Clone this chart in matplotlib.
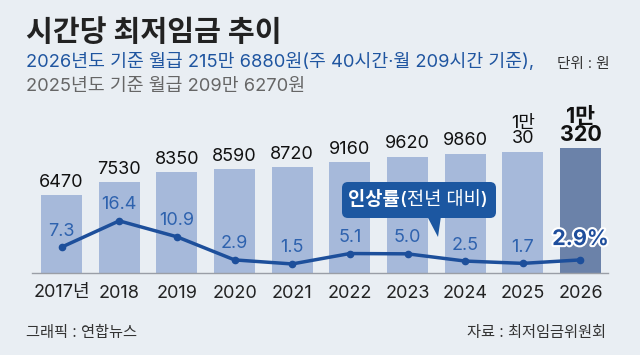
import matplotlib
matplotlib.use('Agg')
import matplotlib.pyplot as plt
import matplotlib.patheffects as pe
from matplotlib.patches import FancyBboxPatch, Polygon

plt.rcParams['font.family'] = ['Inter', 'Noto Sans CJK KR']

# data
years = ['2017년', '2018', '2019', '2020', '2021', '2022', '2023', '2024', '2025', '2026']
wage = [6470, 7530, 8350, 8590, 8720, 9160, 9620, 9860, 10030, 10320]
wage_labels = ['6470', '7530', '8350', '8590', '8720', '9160', '9620', '9860', '1만\n30', '1만\n320']
rate = [7.3, 16.4, 10.9, 2.9, 1.5, 5.1, 5.0, 2.5, 1.7, 2.9]
rate_labels = ['7.3', '16.4', '10.9', '2.9', '1.5', '5.1', '5.0', '2.5', '1.7', '2.9%']

bg = '#e9eef3'
bar_c = '#a6b9da'
bar_last = '#6b82a9'
line_c = '#1d4f9b'
pct_c = '#2e62ae'
box_c = '#1c57a1'

fig = plt.figure(figsize=(6.4, 3.55), dpi=100)
fig.patch.set_facecolor(bg)

ax = fig.add_axes([32/640, 82/355, 576/640, 173/355])
ax.set_facecolor('none')
x = list(range(len(years)))
colors = [bar_c]*(len(years)-1) + [bar_last]
ax.bar(x, wage, width=0.71, color=colors, zorder=1)
ax.set_xlim(-0.512, 9.477)
ax.set_ylim(0, 14290)
for s in ['top', 'right', 'left']:
    ax.spines[s].set_visible(False)
ax.spines['bottom'].set_color('#9a9ea6')
ax.spines['bottom'].set_linewidth(1)
ax.set_yticks([])
ax.set_xticks([])

# year labels
for i, yr in enumerate(years):
    ax.annotate(yr, xy=(i, 0), xycoords=('data', 'axes fraction'),
                xytext=(0, -14.4), textcoords='offset points',
                ha='center', va='center', fontsize=13, color='#222222')

# wage labels
for i, lab in enumerate(wage_labels):
    if i == len(wage_labels)-1:
        ax.annotate(lab, xy=(i, wage[i]), xytext=(0, 2), textcoords='offset points',
                    ha='center', va='bottom', fontsize=15.5, fontweight='bold',
                    color='#111111', linespacing=0.9)
    else:
        ax.annotate(lab, xy=(i, wage[i]), xytext=(0, 3), textcoords='offset points',
                    ha='center', va='bottom', fontsize=13, color='#111111',
                    linespacing=0.9)

# rate line
ax2 = ax.twinx()
ax2.set_ylim(-1.63, 58.2)
ax2.axis('off')
ax2.plot(x, rate, color=line_c, lw=2.5, marker='o', ms=4.5,
         solid_joinstyle='round', solid_capstyle='round', zorder=3)
for i, lab in enumerate(rate_labels):
    if i == len(rate_labels)-1:
        ax2.annotate(lab, xy=(i, rate[i]), xytext=(0, 15), textcoords='offset points',
                     ha='center', va='center', fontsize=15.5, fontweight='bold',
                     color='#1f4e9c',
                     path_effects=[pe.withStroke(linewidth=3, foreground='white')])
    else:
        ax2.annotate(lab, xy=(i, rate[i]), xytext=(0, 11.5), textcoords='offset points',
                     ha='center', va='center', fontsize=13, color=pct_c)

# overlay for titles and callout (pixel coords)
ov = fig.add_axes([0, 0, 1, 1], zorder=5)
ov.set_xlim(0, 640)
ov.set_ylim(355, 0)
ov.axis('off')

ov.text(26, 33, '시간당 최저임금 추이', fontsize=21, fontweight='bold',
        color='#222222', ha='left', va='center')
ov.text(26, 62, '2026년도 기준 월급 215만 6880원(주 40시간·월 209시간 기준),',
        fontsize=13.2, color='#1f55a0', ha='left', va='center')
ov.text(557, 64, '단위 : 원', fontsize=10.5, color='#333333', ha='left', va='center')
ov.text(26, 87, '2025년도 기준 월급 209만 6270원', fontsize=13.2,
        color='#666666', ha='left', va='center')

ov.text(26, 332, '그래픽 : 연합뉴스', fontsize=11, color='#333333', ha='left', va='center')
ov.text(606, 332, '자료 : 최저임금위원회', fontsize=11, color='#333333', ha='right', va='center')

# callout
ov.add_patch(FancyBboxPatch((342, 182), 154, 36,
                            boxstyle='round,pad=0,rounding_size=6',
                            fc=box_c, ec='none'))
ov.add_patch(Polygon([(427, 216), (441, 216), (438, 237)], closed=True,
                     fc=box_c, ec='none'))
t1 = ov.text(348, 200, '인상률', fontsize=13.5, fontweight='bold', color='white',
             ha='left', va='center')
ov.annotate('(전년 대비)', xy=(1, 0.5), xycoords=t1, ha='left', va='center',
            fontsize=13.5, color='white', fontweight='medium')

fig.savefig('out.png', dpi=100, facecolor=bg)
